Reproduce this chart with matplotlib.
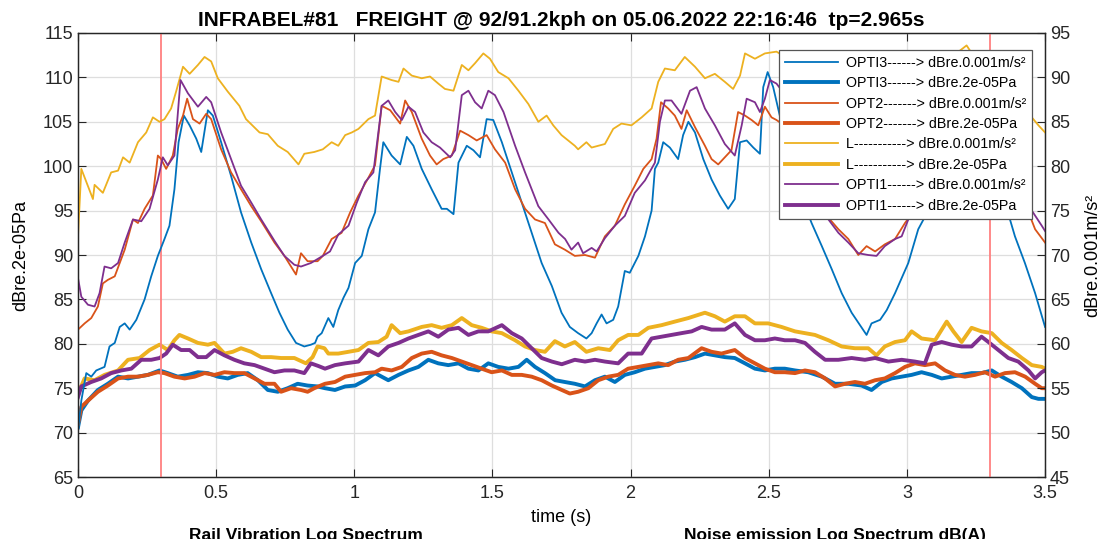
import matplotlib
matplotlib.use("Agg")
import matplotlib.pyplot as plt

plt.rcParams['font.family'] = ['Liberation Sans', 'DejaVu Sans']

# readings (time s, level dB); acceleration series in dB re 0.001 m/s^2 (right axis)
opti3_acc = [(0, 50.2), (0.012, 53.6), (0.03, 56.7), (0.048, 56.3), (0.066, 57.0), (0.096, 57.4), (0.114, 59.7),
             (0.133, 60.1), (0.151, 61.9), (0.169, 62.3), (0.187, 61.6), (0.211, 62.7), (0.241, 65.0), (0.265, 67.6),
             (0.289, 69.9), (0.313, 71.8), (0.331, 73.3), (0.349, 77.4), (0.364, 82.7), (0.383, 85.7), (0.404, 84.6),
             (0.428, 83.1), (0.446, 81.6), (0.47, 86.3), (0.488, 85.7), (0.518, 82.7), (0.554, 78.9), (0.59, 74.8),
             (0.627, 71.4), (0.663, 68.4), (0.699, 65.7), (0.729, 63.5), (0.759, 61.6), (0.789, 60.1), (0.819, 59.7),
             (0.843, 59.9), (0.858, 60.1), (0.867, 60.8), (0.882, 61.2), (0.906, 62.9), (0.924, 61.9), (0.942, 63.8),
             (0.961, 65.2), (0.979, 66.3), (1.003, 69.1), (1.027, 69.9), (1.051, 72.9), (1.075, 74.8), (1.093, 79.7),
             (1.105, 82.7), (1.135, 81.2), (1.166, 80.2), (1.19, 83.3), (1.214, 82.3), (1.244, 79.7), (1.28, 77.4),
             (1.316, 75.2), (1.335, 75.2), (1.359, 74.6), (1.377, 80.4), (1.407, 82.3), (1.431, 81.8), (1.455, 81.0),
             (1.479, 85.3), (1.503, 85.2), (1.534, 82.7), (1.57, 79.3), (1.606, 75.9), (1.642, 72.5), (1.678, 69.1),
             (1.715, 66.5), (1.75, 63.5), (1.78, 61.9), (1.81, 61.2), (1.84, 60.6), (1.859, 61.2), (1.877, 62.3),
             (1.895, 63.3), (1.913, 62.3), (1.937, 62.7), (1.955, 64.2), (1.979, 68.2), (1.997, 68.0), (2.028, 69.9),
             (2.052, 72.1), (2.076, 75.0), (2.088, 79.7), (2.1, 80.4), (2.118, 82.7), (2.142, 82.1), (2.172, 80.8),
             (2.19, 83.5), (2.209, 85.0), (2.233, 83.8), (2.263, 80.8), (2.293, 78.5), (2.323, 76.7), (2.353, 75.2),
             (2.377, 76.3), (2.396, 82.7), (2.42, 82.9), (2.444, 82.1), (2.468, 81.4), (2.48, 88.9), (2.496, 90.6),
             (2.516, 88.9), (2.534, 86.5), (2.56, 83.0), (2.6, 78.0), (2.655, 73.6), (2.692, 71.0), (2.728, 68.4),
             (2.764, 65.7), (2.8, 63.5), (2.83, 62.1), (2.854, 61.0), (2.872, 62.3), (2.903, 62.7), (2.927, 63.8),
             (2.957, 65.7), (2.981, 67.4), (3.005, 69.1), (3.023, 71.0), (3.041, 72.9), (3.06, 74.0), (3.1, 78.0),
             (3.15, 81.0), (3.2, 82.0), (3.25, 83.0), (3.3, 80.0), (3.355, 75.9), (3.391, 72.1), (3.427, 69.1),
             (3.464, 65.7), (3.5, 61.9)]

opt2_acc = [(0, 61.6), (0.024, 62.3), (0.048, 62.9), (0.072, 64.2), (0.09, 66.8), (0.108, 67.2), (0.133, 67.6),
            (0.151, 69.1), (0.169, 70.6), (0.199, 74.0), (0.217, 73.6), (0.241, 75.2), (0.271, 76.7), (0.289, 81.2),
            (0.301, 80.8), (0.319, 79.7), (0.343, 81.2), (0.361, 84.2), (0.38, 85.7), (0.395, 87.6), (0.416, 85.3),
            (0.44, 84.8), (0.464, 85.9), (0.482, 85.3), (0.518, 81.9), (0.554, 79.3), (0.59, 77.4), (0.627, 75.5),
            (0.663, 73.8), (0.711, 71.4), (0.747, 69.9), (0.789, 67.8), (0.807, 70.2), (0.831, 69.3), (0.867, 69.3),
            (0.886, 69.9), (0.918, 71.8), (0.954, 72.5), (0.985, 74.8), (1.015, 76.7), (1.051, 78.7), (1.075, 80.1),
            (1.099, 86.8), (1.13, 86.3), (1.166, 84.8), (1.184, 87.4), (1.208, 86.1), (1.244, 83.1), (1.274, 81.2),
            (1.298, 80.2), (1.322, 80.8), (1.353, 81.2), (1.383, 84.0), (1.413, 83.5), (1.443, 82.9), (1.479, 83.5),
            (1.509, 81.9), (1.546, 80.4), (1.582, 77.4), (1.618, 75.2), (1.654, 74.0), (1.69, 73.6), (1.726, 71.2),
            (1.762, 70.6), (1.798, 69.9), (1.835, 70.0), (1.871, 69.7), (1.907, 72.1), (1.943, 73.3), (1.979, 75.7),
            (2.015, 77.8), (2.046, 79.7), (2.076, 80.8), (2.094, 83.1), (2.11, 87.2), (2.136, 86.5), (2.16, 85.7),
            (2.184, 84.2), (2.203, 86.3), (2.233, 84.4), (2.269, 82.3), (2.293, 80.8), (2.317, 80.2), (2.347, 81.2),
            (2.365, 81.8), (2.389, 86.1), (2.414, 85.7), (2.438, 85.2), (2.462, 84.6), (2.486, 86.7), (2.51, 85.5),
            (2.528, 85.2), (2.56, 84.5), (2.6, 82.0), (2.65, 79.0), (2.7, 75.5), (2.716, 74.2), (2.752, 72.9),
            (2.788, 71.8), (2.824, 70.0), (2.854, 71.0), (2.885, 70.4), (2.92, 71.2), (2.957, 71.8), (2.993, 73.6),
            (3.05, 76.0), (3.1, 79.0), (3.15, 82.0), (3.2, 84.0), (3.25, 85.0), (3.3, 83.5), (3.35, 81.0),
            (3.4, 78.0), (3.464, 72.9), (3.5, 71.4)]

l_acc = [(0, 72.1), (0.012, 79.7), (0.054, 76.3), (0.06, 77.9), (0.09, 77.0), (0.12, 79.3), (0.145, 79.5),
         (0.163, 81.0), (0.187, 80.4), (0.217, 82.7), (0.247, 83.8), (0.271, 85.5), (0.295, 85.0), (0.313, 85.3),
         (0.337, 86.5), (0.355, 88.4), (0.38, 91.2), (0.404, 90.4), (0.434, 91.4), (0.458, 92.3), (0.482, 91.8),
         (0.506, 89.9), (0.542, 88.4), (0.584, 86.8), (0.608, 85.3), (0.657, 83.8), (0.687, 83.6), (0.723, 82.3),
         (0.759, 81.6), (0.798, 80.2), (0.819, 81.4), (0.855, 81.6), (0.886, 81.9), (0.918, 82.7), (0.942, 82.3),
         (0.967, 83.5), (0.991, 83.8), (1.015, 84.2), (1.051, 85.3), (1.075, 85.7), (1.099, 90.1), (1.135, 89.7),
         (1.16, 89.5), (1.178, 91.0), (1.208, 90.2), (1.244, 89.9), (1.274, 90.1), (1.304, 89.3), (1.328, 88.7),
         (1.359, 88.5), (1.389, 91.4), (1.413, 90.8), (1.437, 91.6), (1.467, 92.7), (1.491, 92.1), (1.521, 90.6),
         (1.558, 89.9), (1.594, 88.5), (1.63, 87.0), (1.666, 85.0), (1.696, 85.7), (1.72, 84.6), (1.75, 83.5),
         (1.798, 82.3), (1.81, 81.9), (1.84, 82.7), (1.859, 82.1), (1.907, 82.5), (1.937, 84.2), (1.967, 84.8),
         (2.003, 84.6), (2.04, 85.5), (2.076, 86.5), (2.1, 89.5), (2.124, 91.0), (2.16, 90.8), (2.196, 92.3),
         (2.233, 91.2), (2.269, 89.9), (2.305, 90.4), (2.341, 89.5), (2.371, 88.7), (2.396, 90.2), (2.414, 92.7),
         (2.45, 92.1), (2.486, 92.7), (2.528, 92.9), (2.6, 91.5), (2.7, 88.0), (2.8, 84.0), (2.85, 82.5),
         (2.9, 83.0), (2.95, 85.0), (3.0, 87.0), (3.05, 89.0), (3.1, 91.0), (3.15, 92.0), (3.216, 93.6),
         (3.25, 92.0), (3.3, 90.0), (3.35, 88.0), (3.4, 86.5), (3.452, 85.5), (3.476, 84.6), (3.5, 83.8)]

opti1_acc = [(0, 67.4), (0.012, 65.3), (0.036, 64.4), (0.06, 64.2), (0.078, 65.7), (0.096, 68.7), (0.12, 68.5),
             (0.145, 69.1), (0.169, 71.4), (0.199, 74.0), (0.229, 73.8), (0.259, 75.2), (0.289, 78.5), (0.307, 81.0),
             (0.325, 80.1), (0.349, 81.2), (0.371, 89.7), (0.398, 88.2), (0.434, 86.7), (0.464, 87.8), (0.482, 87.2),
             (0.518, 83.8), (0.554, 80.8), (0.59, 77.8), (0.627, 75.9), (0.663, 74.0), (0.711, 71.6), (0.747, 69.9),
             (0.783, 68.9), (0.807, 68.7), (0.843, 69.1), (0.886, 69.9), (0.912, 70.4), (0.942, 72.3), (0.979, 73.3),
             (1.009, 75.9), (1.039, 78.2), (1.069, 79.3), (1.099, 86.8), (1.123, 87.4), (1.148, 86.1), (1.172, 85.2),
             (1.196, 86.7), (1.22, 86.1), (1.25, 83.8), (1.28, 82.7), (1.31, 82.1), (1.347, 81.0), (1.365, 81.8),
             (1.389, 88.0), (1.413, 88.5), (1.437, 87.2), (1.461, 86.5), (1.485, 88.5), (1.509, 88.0), (1.54, 86.1),
             (1.582, 82.3), (1.618, 79.3), (1.666, 75.5), (1.703, 74.0), (1.739, 72.5), (1.763, 71.8), (1.786, 70.6),
             (1.81, 71.4), (1.828, 70.2), (1.859, 70.8), (1.877, 70.4), (1.907, 71.9), (1.943, 73.3), (1.979, 74.4),
             (2.015, 77.0), (2.052, 78.4), (2.088, 80.4), (2.106, 85.0), (2.124, 87.4), (2.148, 87.4), (2.184, 85.9),
             (2.215, 88.5), (2.239, 88.9), (2.269, 86.5), (2.305, 84.6), (2.341, 82.5), (2.377, 81.2), (2.402, 84.6),
             (2.42, 87.6), (2.45, 87.2), (2.468, 86.1), (2.486, 87.6), (2.504, 89.7), (2.528, 89.3), (2.56, 88.0),
             (2.6, 84.0), (2.65, 79.0), (2.692, 75.0), (2.716, 74.0), (2.752, 72.5), (2.788, 71.4), (2.824, 70.2),
             (2.86, 70.0), (2.89, 69.9), (2.92, 71.0), (2.957, 71.8), (2.981, 72.1), (3.005, 74.0), (3.05, 77.0),
             (3.1, 80.0), (3.15, 84.0), (3.2, 87.0), (3.25, 88.0), (3.3, 86.0), (3.35, 83.0), (3.4, 79.0),
             (3.452, 75.0), (3.488, 73.3), (3.5, 72.7)]

# sound pressure series in dB re 2e-05 Pa (left axis)
opti3_pa = [(0, 70.6), (0.012, 72.5), (0.036, 73.6), (0.072, 74.8), (0.108, 75.5), (0.145, 76.3), (0.181, 76.1),
            (0.217, 76.3), (0.253, 76.5), (0.295, 77.0), (0.325, 76.7), (0.361, 76.3), (0.398, 76.5), (0.434, 76.8),
            (0.47, 76.7), (0.506, 76.3), (0.542, 76.1), (0.578, 76.5), (0.614, 76.7), (0.651, 75.9), (0.687, 74.8),
            (0.723, 74.6), (0.759, 75.0), (0.795, 75.5), (0.831, 75.3), (0.867, 75.2), (0.894, 75.0), (0.93, 74.8),
            (0.967, 75.2), (1.003, 75.3), (1.039, 75.9), (1.075, 76.7), (1.099, 76.3), (1.123, 75.9), (1.16, 76.5),
            (1.196, 77.0), (1.232, 77.4), (1.268, 78.2), (1.304, 77.8), (1.34, 77.6), (1.377, 77.8), (1.413, 77.2),
            (1.449, 77.0), (1.485, 77.8), (1.521, 77.4), (1.558, 77.2), (1.594, 77.4), (1.624, 78.2), (1.654, 77.4),
            (1.69, 76.7), (1.727, 75.9), (1.762, 75.7), (1.798, 75.5), (1.835, 75.2), (1.871, 75.9), (1.907, 76.3),
            (1.943, 75.7), (1.979, 76.5), (2.015, 76.8), (2.052, 77.2), (2.088, 77.4), (2.124, 77.6), (2.16, 78.0),
            (2.196, 78.2), (2.233, 78.5), (2.269, 78.9), (2.305, 78.7), (2.341, 78.5), (2.377, 78.4), (2.414, 77.8),
            (2.45, 77.2), (2.486, 77.0), (2.522, 77.2), (2.558, 77.2), (2.595, 77.0), (2.643, 76.8), (2.692, 76.3),
            (2.74, 75.5), (2.788, 75.5), (2.836, 75.3), (2.872, 74.8), (2.909, 75.7), (2.945, 76.1), (2.981, 76.3),
            (3.017, 76.5), (3.053, 76.8), (3.09, 76.5), (3.126, 76.1), (3.162, 76.3), (3.198, 76.5), (3.234, 76.7),
            (3.27, 76.7), (3.307, 77.0), (3.343, 76.3), (3.379, 75.7), (3.416, 75.0), (3.452, 74.0), (3.476, 73.8),
            (3.5, 73.8)]

opt2_pa = [(0, 71.0), (0.012, 72.9), (0.036, 73.6), (0.072, 74.6), (0.108, 75.3), (0.145, 76.1), (0.181, 76.3),
           (0.217, 76.3), (0.253, 76.5), (0.289, 76.8), (0.313, 76.7), (0.349, 76.3), (0.386, 76.1), (0.422, 76.3),
           (0.458, 76.7), (0.494, 76.5), (0.53, 76.8), (0.566, 76.7), (0.602, 76.7), (0.639, 76.1), (0.675, 75.5),
           (0.711, 75.5), (0.735, 74.6), (0.771, 75.0), (0.807, 74.8), (0.831, 74.6), (0.855, 75.0), (0.894, 75.5),
           (0.93, 75.7), (0.967, 76.3), (1.003, 76.5), (1.039, 76.7), (1.075, 76.8), (1.099, 77.2), (1.135, 77.0),
           (1.172, 77.4), (1.208, 78.4), (1.244, 78.9), (1.28, 79.1), (1.316, 78.7), (1.353, 78.4), (1.389, 78.0),
           (1.425, 77.6), (1.461, 77.2), (1.497, 76.8), (1.534, 77.0), (1.57, 76.5), (1.606, 76.5), (1.642, 76.3),
           (1.678, 75.9), (1.715, 75.3), (1.751, 74.8), (1.78, 74.4), (1.81, 74.6), (1.847, 75.0), (1.883, 75.9),
           (1.919, 76.3), (1.955, 76.5), (1.991, 77.2), (2.028, 77.4), (2.064, 77.6), (2.1, 77.8), (2.136, 77.6),
           (2.172, 78.2), (2.209, 78.4), (2.257, 79.5), (2.293, 79.1), (2.329, 78.9), (2.377, 79.3), (2.414, 78.4),
           (2.45, 77.8), (2.486, 77.2), (2.522, 76.8), (2.558, 76.8), (2.595, 76.7), (2.631, 77.0), (2.667, 76.8),
           (2.704, 76.1), (2.74, 75.2), (2.776, 75.5), (2.812, 75.7), (2.848, 75.5), (2.885, 75.9), (2.92, 76.1),
           (2.957, 76.7), (2.993, 77.4), (3.029, 77.8), (3.065, 77.6), (3.102, 77.8), (3.138, 77.0), (3.174, 76.5),
           (3.21, 76.3), (3.246, 76.5), (3.282, 76.8), (3.319, 76.3), (3.355, 76.7), (3.391, 76.8), (3.428, 76.3),
           (3.464, 75.5), (3.488, 75.0), (3.5, 75.0)]

l_pa = [(0, 74.4), (0.024, 76.1), (0.06, 75.9), (0.096, 76.5), (0.145, 77.0), (0.181, 78.2), (0.223, 78.4),
        (0.259, 79.3), (0.295, 79.9), (0.325, 79.3), (0.349, 80.4), (0.367, 81.0), (0.398, 80.6), (0.434, 80.1),
        (0.47, 79.9), (0.494, 80.1), (0.53, 78.9), (0.56, 79.1), (0.59, 79.5), (0.627, 79.1), (0.663, 78.5),
        (0.699, 78.5), (0.735, 78.4), (0.783, 78.4), (0.825, 77.8), (0.849, 78.5), (0.867, 79.7), (0.892, 79.5),
        (0.906, 78.9), (0.942, 78.9), (0.979, 79.1), (1.015, 79.3), (1.051, 80.1), (1.087, 80.2), (1.117, 80.8),
        (1.135, 82.1), (1.166, 81.2), (1.196, 81.4), (1.244, 81.9), (1.28, 82.1), (1.316, 81.8), (1.353, 82.1),
        (1.389, 82.9), (1.425, 82.1), (1.461, 81.8), (1.497, 81.4), (1.534, 81.2), (1.582, 80.4), (1.618, 79.7),
        (1.654, 79.3), (1.69, 79.1), (1.726, 80.3), (1.762, 79.7), (1.798, 80.2), (1.84, 79.1), (1.883, 79.5),
        (1.925, 79.3), (1.955, 80.4), (1.991, 81.0), (2.028, 81.0), (2.064, 81.8), (2.112, 82.1), (2.16, 82.5),
        (2.209, 82.9), (2.269, 83.5), (2.305, 83.1), (2.341, 82.5), (2.377, 83.1), (2.414, 83.1), (2.45, 82.3),
        (2.498, 82.3), (2.546, 81.9), (2.595, 81.4), (2.631, 81.2), (2.667, 81.0), (2.716, 80.4), (2.764, 79.7),
        (2.812, 79.5), (2.86, 79.5), (2.89, 78.7), (2.92, 79.7), (2.957, 80.2), (2.993, 80.4), (3.017, 81.4),
        (3.053, 80.6), (3.102, 80.4), (3.126, 81.6), (3.144, 82.5), (3.168, 81.4), (3.198, 80.2), (3.234, 81.8),
        (3.27, 81.4), (3.307, 81.2), (3.343, 80.1), (3.379, 79.3), (3.416, 78.4), (3.452, 77.6), (3.488, 77.4),
        (3.5, 77.2)]

opti1_pa = [(0, 74.0), (0.012, 75.2), (0.048, 75.7), (0.084, 76.1), (0.12, 76.7), (0.157, 77.0), (0.193, 77.2),
            (0.229, 78.2), (0.265, 78.2), (0.295, 78.4), (0.319, 78.9), (0.343, 79.9), (0.373, 79.3), (0.404, 79.3),
            (0.434, 78.5), (0.464, 78.5), (0.494, 79.3), (0.53, 78.7), (0.566, 78.2), (0.602, 77.8), (0.639, 77.6),
            (0.675, 77.2), (0.711, 76.8), (0.747, 77.0), (0.783, 77.0), (0.819, 76.7), (0.843, 77.8), (0.87, 77.5),
            (0.894, 77.2), (0.93, 77.6), (0.967, 77.8), (1.015, 78.0), (1.051, 79.3), (1.087, 78.7), (1.123, 79.7),
            (1.16, 80.1), (1.196, 80.6), (1.232, 81.0), (1.268, 81.4), (1.304, 80.8), (1.34, 81.6), (1.377, 81.8),
            (1.413, 81.0), (1.449, 81.4), (1.485, 81.4), (1.534, 82.1), (1.57, 81.2), (1.606, 80.6), (1.642, 79.5),
            (1.678, 78.4), (1.715, 78.0), (1.751, 77.7), (1.798, 78.2), (1.835, 78.0), (1.871, 78.2), (1.907, 78.0),
            (1.955, 77.8), (1.991, 78.9), (2.04, 78.9), (2.076, 80.6), (2.112, 80.8), (2.148, 81.0), (2.184, 81.2),
            (2.221, 81.4), (2.257, 81.9), (2.293, 81.6), (2.341, 81.6), (2.377, 82.3), (2.414, 81.0), (2.45, 80.4),
            (2.486, 80.4), (2.522, 80.6), (2.558, 80.4), (2.595, 80.4), (2.631, 80.1), (2.667, 79.1), (2.704, 78.2),
            (2.752, 78.2), (2.8, 78.4), (2.848, 78.2), (2.885, 78.4), (2.933, 78.0), (2.981, 78.2), (3.029, 78.0),
            (3.065, 77.8), (3.09, 79.9), (3.126, 80.2), (3.162, 79.9), (3.198, 79.7), (3.234, 79.7), (3.27, 80.8),
            (3.295, 80.2), (3.331, 79.3), (3.367, 78.4), (3.403, 78.0), (3.44, 77.0), (3.464, 76.1), (3.488, 76.8),
            (3.5, 77.0)]

names = ['OPTI3------> ', 'OPT2-------> ', 'L-----------> ', 'OPTI1------> ']
colors = ['#0072BD', '#D95319', '#EDB120', '#7E2F8E']
acc_series = [opti3_acc, opt2_acc, l_acc, opti1_acc]
pa_series = [opti3_pa, opt2_pa, l_pa, opti1_pa]
marker_times = [0.3, 3.3]

title = 'INFRABEL#81   FREIGHT @ 92/91.2kph on 05.06.2022 22:16:46  tp=2.965s'

fig = plt.figure(figsize=(11.08, 5.39), dpi=100)
ax = fig.add_axes([0.0704, 0.115, 0.8728, 0.8238])
ax2 = ax.twinx()

handles = []
for name, c, acc, pa in zip(names, colors, acc_series, pa_series):
    h1, = ax2.plot([p[0] for p in acc], [p[1] for p in acc], color=c, lw=1.3,
                   label=name + 'dBre.0.001m/s²')
    h2, = ax.plot([p[0] for p in pa], [p[1] for p in pa], color=c, lw=2.8,
                  label=name + 'dBre.2e-05Pa')
    handles += [h1, h2]

for t in marker_times:
    ax.axvline(t, color='#ff8080', lw=1.3, zorder=5)

ax.set_xlim(0, 3.5)
ax.set_ylim(65, 115)
ax2.set_ylim(45, 95)
ax.set_xticks([0, 0.5, 1, 1.5, 2, 2.5, 3, 3.5])
ax.set_xticklabels(['0', '0.5', '1', '1.5', '2', '2.5', '3', '3.5'])
ax.set_yticks(range(65, 116, 5))
ax2.set_yticks(range(45, 96, 5))
ax.grid(True, color='#dedede', lw=0.9)
ax.set_axisbelow(True)

for a in (ax, ax2):
    a.tick_params(direction='in', length=6, width=0.8, labelsize=13, colors='#262626')
    for s in a.spines.values():
        s.set_color('#262626')
        s.set_linewidth(0.9)
ax.tick_params(axis='x', top=True, pad=6)

ax.set_xlabel('time (s)', fontsize=13, labelpad=5)
ax.set_ylabel('dBre.2e-05Pa', fontsize=13, labelpad=10)
ax2.set_ylabel('dBre.0.001m/s²', fontsize=13, labelpad=10)
ax.set_title(title, fontsize=15, fontweight='bold', pad=5)

leg = ax2.legend(handles=handles, loc='upper right', bbox_to_anchor=(0.9866, 0.9617),
                 fontsize=10.3, handlelength=3.7, handletextpad=0.6, labelspacing=0.45, borderpad=0.4,
                 fancybox=False, framealpha=1, edgecolor='#555555', borderaxespad=0)
leg.get_frame().set_linewidth(0.9)

fig.text(0.276, 0.02, 'Rail Vibration Log Spectrum', ha='center', va='top', fontsize=12.5, fontweight='bold')
fig.text(0.754, 0.02, 'Noise emission Log Spectrum dB(A)', ha='center', va='top', fontsize=12.5, fontweight='bold')

fig.savefig('out.png', dpi=100)
